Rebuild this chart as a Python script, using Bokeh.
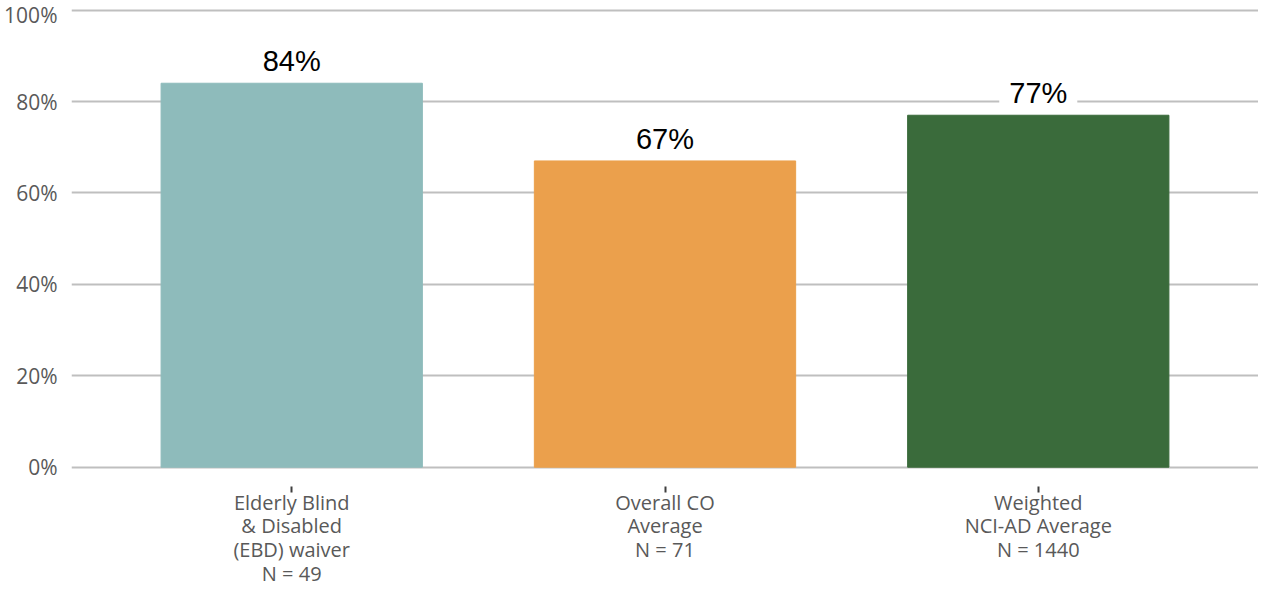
from bokeh.plotting import figure
from bokeh.models import ColumnDataSource, FactorRange, Range1d, FixedTicker, PrintfTickFormatter
from bokeh.core.properties import value
from bokeh.embed import file_html
from bokeh.resources import INLINE

categories = [
    "Elderly Blind\n& Disabled\n(EBD) waiver\nN = 49",
    "Overall CO\nAverage\nN = 71",
    "Weighted\nNCI-AD Average\nN = 1440",
]
values = [84, 67, 77]
value_labels = ["84%", "67%", "77%"]
bar_colors = ["#8EBBBB", "#EBA04C", "#3A6B3B"]
y_ticks = [0, 20, 40, 60, 80, 100]

source = ColumnDataSource(dict(cat=categories, val=values, lab=value_labels, color=bar_colors))

p = figure(
    width=1258, height=589,
    x_range=FactorRange(factors=categories, range_padding=0.09, range_padding_units="absolute"),
    y_range=Range1d(-0.5, 102.1),
    output_backend="svg", toolbar_location=None,
    min_border_left=71, min_border_right=0, min_border_top=0, min_border_bottom=110,
)
p.outline_line_color = None
p.background_fill_color = "white"

p.vbar(x="cat", top="val", bottom=0, width=0.7, color="color", source=source)

p.text(
    x="cat", y="val", text="lab", source=source,
    text_align="center", text_baseline="bottom", y_offset=-6,
    text_font=value("Liberation Sans"), text_font_size="29px", text_color="black",
    background_fill_color="white", padding=[10, 0],
)

# Y axis
p.yaxis.ticker = FixedTicker(ticks=y_ticks)
p.yaxis.formatter = PrintfTickFormatter(format="%d%%")
p.yaxis.axis_line_color = None
p.yaxis.major_tick_line_color = None
p.yaxis.minor_tick_line_color = None
p.yaxis.major_tick_out = 0
p.yaxis.major_tick_in = 0
p.yaxis.major_label_standoff = 14
p.yaxis.major_label_text_font = "Open Sans"
p.yaxis.major_label_text_font_size = "21px"
p.yaxis.major_label_text_color = "#595959"

p.ygrid.ticker = FixedTicker(ticks=y_ticks)
p.ygrid.grid_line_color = "#BFBFBF"
p.ygrid.grid_line_width = 2
p.xgrid.grid_line_color = None

# X axis
p.xaxis.axis_line_color = None
p.xaxis.major_tick_in = -17
p.xaxis.major_tick_out = 23
p.xaxis.major_tick_line_color = "#3F3F3F"
p.xaxis.major_tick_line_width = 2
p.xaxis.major_label_standoff = -4
p.xaxis.major_label_text_font = "Open Sans"
p.xaxis.major_label_text_font_size = "20px"
p.xaxis.major_label_text_line_height = 0.88
p.xaxis.major_label_text_color = "#595959"
p.xaxis.major_label_orientation = "horizontal"

open("out.html", "w").write(file_html(p, INLINE))
